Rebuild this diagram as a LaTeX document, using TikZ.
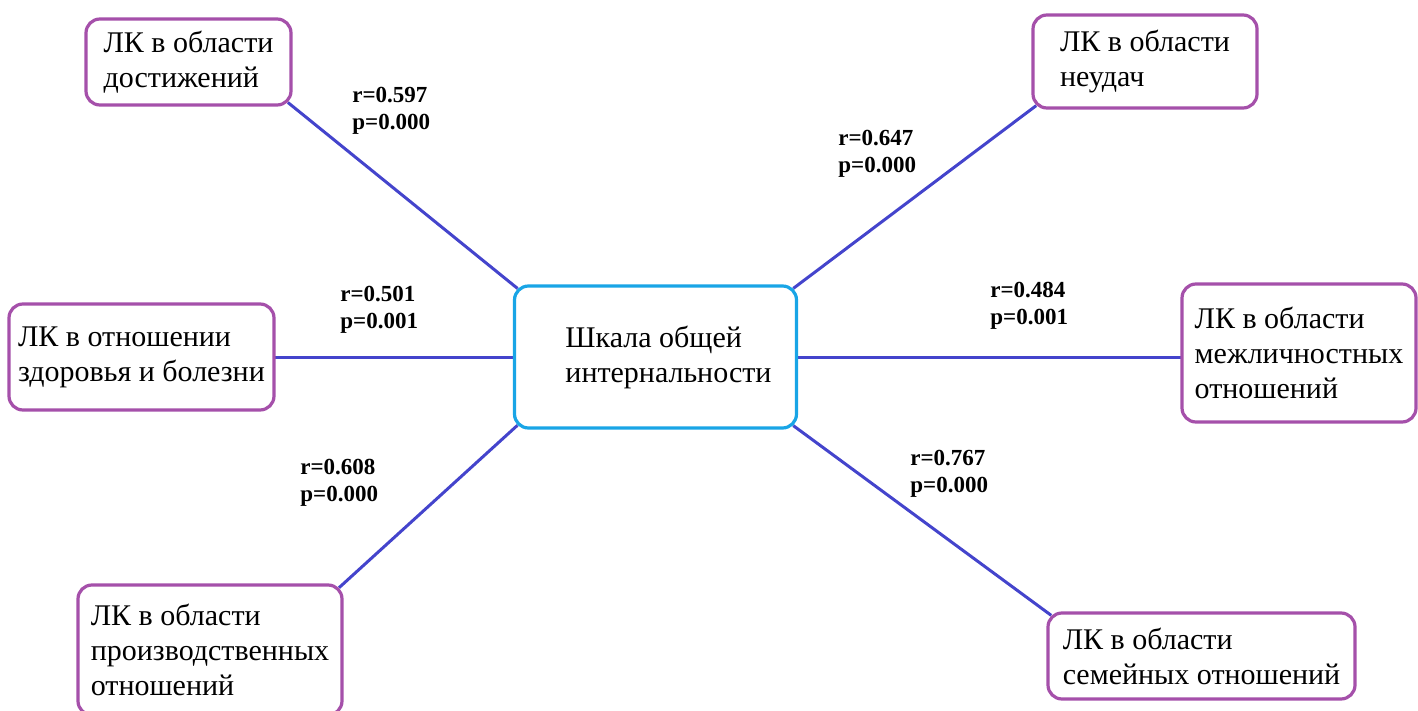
\documentclass[tikz,border=0pt]{standalone}
\usepackage{fontspec}
\setmainfont{Liberation Serif}
\definecolor{boxpurple}{RGB}{165,80,170}
\definecolor{boxcyan}{RGB}{25,165,230}
\definecolor{linkblue}{RGB}{68,68,204}
\pgfdeclarelayer{background}
\pgfsetlayers{background,main}
\begin{document}
\begin{tikzpicture}[x=0.5pt,y=-0.5pt,
  lk/.style={draw=boxpurple, line width=1.6pt, rounded corners=7pt, fill=white, align=left,
    font=\fontsize{15}{17.5}\selectfont, inner sep=0pt, outer sep=0pt},
  core/.style={draw=boxcyan, line width=1.6pt, rounded corners=7pt, fill=white, align=left,
    font=\fontsize{15}{17.5}\selectfont, inner sep=0pt, outer sep=0pt},
  link/.style={draw=linkblue, line width=1.5pt, shorten <=-2pt, shorten >=-2pt},
  stat/.style={font=\bfseries\fontsize{11.5}{13.5}\selectfont, align=left, inner sep=0pt, anchor=west}]
\useasboundingbox (0,0) rectangle (1418,711);
\clip (0,0) rectangle (1418,711);
\node[core, minimum width=141pt, minimum height=71pt] (c) at (655.5,357)
  {\hspace*{13pt}Шкала общей\\\hspace*{13pt}интернальности};
\node[lk, minimum width=102.5pt, minimum height=43pt] (b1) at (188.5,62) {ЛК в области\\достижений};
\node[lk, minimum width=112pt, minimum height=46.5pt] (b2) at (1145,61.5) {ЛК в области\\неудач};
\node[lk, minimum width=132.5pt, minimum height=53pt] (b3) at (141.5,357) {ЛК в отношении\\здоровья и болезни};
\node[lk, minimum width=117pt, minimum height=69pt] (b5) at (1299,353) {ЛК в области\\межличностных\\отношений};
\node[lk, minimum width=132pt, minimum height=65pt] (b6) at (210,650) {ЛК в области\\производственных\\отношений};
\node[lk, minimum width=153.5pt, minimum height=43pt] (b7) at (1201.5,656) {ЛК в области\\семейных отношений};
\begin{pgfonlayer}{background}
\draw[link] (b1.south east) -- (c.north west);
\draw[link] (b2.south west) -- (c.north east);
\draw[link] (b3.east) -- (c.west);
\draw[link] (c.east) -- (c.east -| b5.west);
\draw[link] (c.south west) -- (b6.north east);
\draw[link] (c.south east) -- (b7.north west);
\end{pgfonlayer}
\node[stat] (s1) at (352,110.5) {r=0.597\\p=0.000};
\node[stat] (s2) at (838,153.5) {r=0.647\\p=0.000};
\node[stat] (s3) at (340,310) {r=0.501\\p=0.001};
\node[stat] (s4) at (990,306) {r=0.484\\p=0.001};
\node[stat] (s5) at (300,483) {r=0.608\\p=0.000};
\node[stat] (s6) at (910,474) {r=0.767\\p=0.000};
\end{tikzpicture}
\end{document}
